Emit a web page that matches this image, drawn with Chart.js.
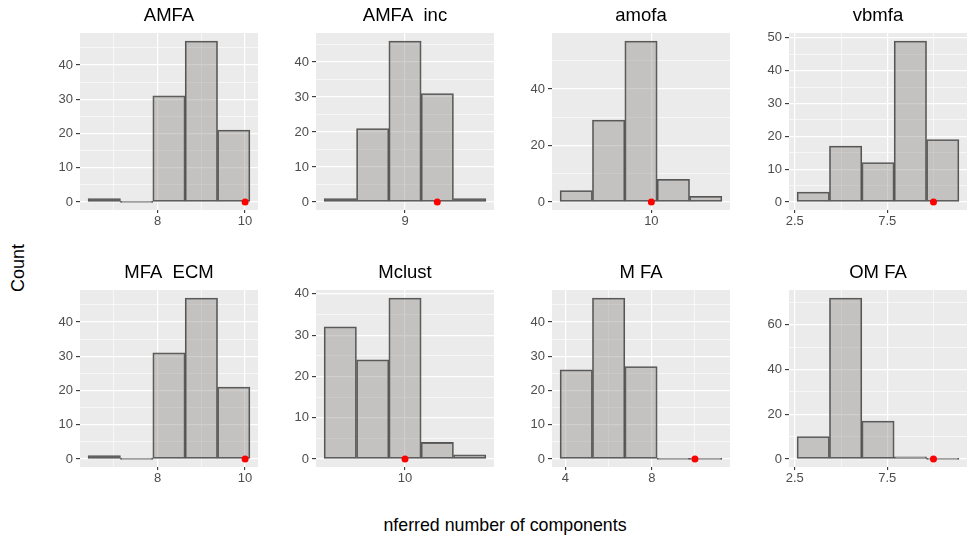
<!DOCTYPE html>
<html>
<head>
<meta charset="utf-8">
<script src="https://cdn.jsdelivr.net/npm/chart.js@4.4.1/dist/chart.umd.min.js"></script>
<style>
  body { margin: 0; background: #fff; }
  #fig { position: relative; width: 968px; height: 542px; overflow: hidden; font-family: "Liberation Sans", Arial, sans-serif; color: #000; }
  .panel { position: absolute; width: 230px; height: 232px; }
  #ytitle { position: absolute; left: 18px; top: 268px; transform: translate(-50%, -50%) rotate(-90deg); font-size: 18px; white-space: nowrap; }
  #xtitle { position: absolute; left: 505px; top: 525px; transform: translate(-50%, -50%); font-size: 17.8px; white-space: pre; }
</style>
</head>
<body>
<div id="fig">
  <div id="ytitle">Count</div>
  <div id="xtitle">nferred number of components</div>
</div>
<script>
var titles = ["AMFA", "AMFA  inc", "amofa", "vbmfa", "MFA  ECM", "Mclust", "M FA", "OM FA"];

// bin centres + counts per method
var amfaBins = [6.78, 7.52, 8.26, 9.0, 9.74];
var amfaCounts = [1, 0, 31, 47, 21];
var amfaIncBins = [8.333, 8.667, 9.0, 9.333, 9.667];
var amfaIncCounts = [1, 21, 46, 31, 1];
var amofaBins = [9.304, 9.604, 9.904, 10.204, 10.504];
var amofaCounts = [4, 29, 57, 8, 2];
var vbmfaBins = [3.5, 5.25, 7.0, 8.75, 10.5];
var vbmfaCounts = [3, 17, 12, 49, 19];
var mfaEcmBins = [6.78, 7.52, 8.26, 9.0, 9.74];
var mfaEcmCounts = [1, 0, 31, 47, 21];
var mclustBins = [9.333, 9.667, 10.0, 10.333, 10.667];
var mclustCounts = [32, 24, 39, 4, 1];
var mfaBins = [4.5, 6.0, 7.5, 9.0, 10.5];
var mfaCounts = [26, 47, 27, 0, 0];
var omfaBins = [3.5, 5.25, 7.0, 8.75, 10.5];
var omfaCounts = [10, 72, 17, 1, 0];

// true number of components (red dot)
var trueK = [10, 9.333, 10, 10, 10, 10, 10, 10];

// axis breaks
var xMajor = [[8, 10], [9], [10], [2.5, 7.5], [8, 10], [10], [4, 8], [2.5, 7.5]];
var xMinor = [[7, 9], [], [], [5, 10], [7, 9], [], [6, 10], [5, 10]];
var yMajor = [[0, 10, 20, 30, 40], [0, 10, 20, 30, 40], [0, 20, 40], [0, 10, 20, 30, 40, 50],
              [0, 10, 20, 30, 40], [0, 10, 20, 30, 40], [0, 10, 20, 30, 40], [0, 20, 40, 60]];
var yMinor = [[5, 15, 25, 35, 45], [5, 15, 25, 35, 45], [10, 30, 50], [5, 15, 25, 35, 45],
              [5, 15, 25, 35, 45], [5, 15, 25, 35], [5, 15, 25, 35, 45], [10, 30, 50, 70]];

var binList = [amfaBins, amfaIncBins, amofaBins, vbmfaBins, mfaEcmBins, mclustBins, mfaBins, omfaBins];
var countList = [amfaCounts, amfaIncCounts, amofaCounts, vbmfaCounts, mfaEcmCounts, mclustCounts, mfaCounts, omfaCounts];

var colLeft = [80, 316, 552, 789];
var rowTop = [33, 290];
var FONT = '"Liberation Sans", Arial, sans-serif';

// grey panel behind the grid
var panelBg = {
  id: 'panelBg',
  beforeDraw: function(chart) {
    var a = chart.chartArea, ctx = chart.ctx;
    ctx.save();
    ctx.fillStyle = '#EBEBEB';
    ctx.fillRect(a.left, a.top, a.right - a.left, a.bottom - a.top);
    ctx.restore();
  }
};

function mkTicks(major, minor) {
  var t = [];
  major.forEach(function(v) { t.push({ value: v, major: true }); });
  minor.forEach(function(v) { t.push({ value: v, major: false }); });
  t.sort(function(a, b) { return a.value - b.value; });
  return t;
}

function gridOpts(len) {
  return {
    offset: false,
    color: '#FFFFFF',
    lineWidth: function(c) { return c.tick && c.tick.major ? 1.2 : 0.6; },
    tickColor: function(c) { return c.tick && c.tick.major ? '#333333' : 'rgba(0,0,0,0)'; },
    tickWidth: 1.1,
    tickLength: len
  };
}

var fig = document.getElementById('fig');

for (var i = 0; i < 8; i++) {
  (function(i) {
    var col = i % 4, row = Math.floor(i / 4);
    var div = document.createElement('div');
    div.className = 'panel';
    div.style.left = (colLeft[col] - 40) + 'px';
    div.style.top = (rowTop[row] - 33) + 'px';
    var cv = document.createElement('canvas');
    cv.width = 230; cv.height = 232;
    div.appendChild(cv);
    fig.appendChild(div);

    var bins = binList[i], counts = countList[i];
    var w = bins[1] - bins[0];
    var ymax = Math.max.apply(null, counts);

    new Chart(cv, {
      type: 'bar',
      data: {
        datasets: [
          {
            type: 'scatter',
            data: [{ x: trueK[i], y: 0 }],
            pointRadius: 3.5,
            pointBackgroundColor: '#FF0000',
            pointBorderWidth: 0,
            order: 1
          },
          {
            data: bins.map(function(b, j) { return { x: b, y: counts[j] }; }),
            backgroundColor: 'rgba(135,133,130,0.4)',
            borderColor: '#555555',
            borderWidth: 1.1,
            borderSkipped: false,
            categoryPercentage: 1,
            barPercentage: 1,
            minBarLength: 1,
            order: 2
          }
        ]
      },
      options: {
        responsive: false,
        animation: false,
        events: [],
        layout: { padding: { right: 12 } },
        plugins: {
          legend: { display: false },
          tooltip: { enabled: false },
          title: {
            display: true,
            text: titles[i],
            fullSize: false,
            color: '#000',
            font: { size: 18.5, family: FONT, weight: 'normal' },
            padding: { top: 4.8, bottom: 6 }
          }
        },
        scales: {
          x: {
            type: 'linear',
            offset: false,
            min: bins[0] - 0.75 * w,
            max: bins[bins.length - 1] + 0.75 * w,
            border: { display: false },
            grid: gridOpts(3),
            ticks: {
              autoSkip: false, maxRotation: 0, padding: 0.5,
              color: '#4D4D4D', font: { size: 13, family: FONT },
              callback: function(v, idx, t) { return t[idx].major ? String(v) : ''; }
            },
            afterBuildTicks: function(s) { s.ticks = mkTicks(xMajor[i], xMinor[i]); },
            afterFit: function(s) { s.height = 22; }
          },
          y: {
            min: -0.05 * ymax,
            max: 1.05 * ymax,
            border: { display: false },
            grid: gridOpts(4),
            ticks: {
              autoSkip: false, padding: 3,
              color: '#4D4D4D', font: { size: 13, family: FONT },
              callback: function(v, idx, t) { return t[idx].major ? String(v) : ''; }
            },
            afterBuildTicks: function(s) { s.ticks = mkTicks(yMajor[i], yMinor[i]); },
            afterFit: function(s) { s.width = 40; }
          }
        }
      },
      plugins: [panelBg]
    });
  })(i);
}
</script>
</body>
</html>
